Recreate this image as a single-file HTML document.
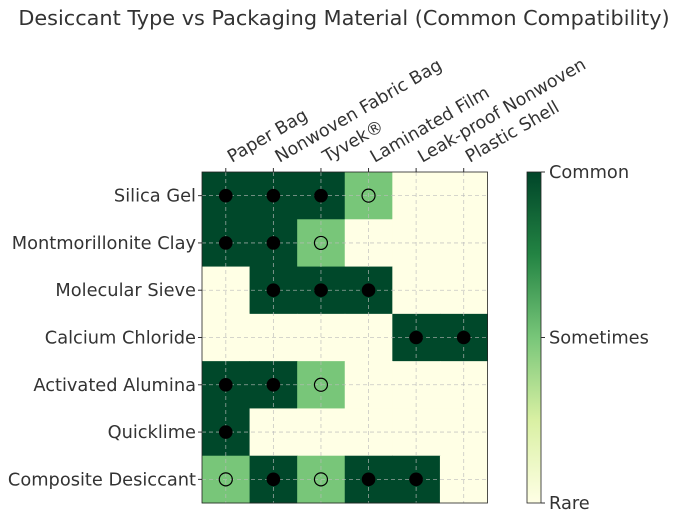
<!DOCTYPE html>
<html><head><meta charset="utf-8"><style>
body{margin:0;background:#fff;font-family:"DejaVu Sans","Liberation Sans",sans-serif;}
svg text{font-family:"DejaVu Sans","Liberation Sans",sans-serif;fill:#333;}
</style></head><body>
<svg id="chart" width="682" height="515">
<defs><linearGradient id="cb" x1="0" y1="1" x2="0" y2="0">
<stop offset="0" stop-color="#ffffe5"/><stop offset="0.25" stop-color="#d9f0a3"/><stop offset="0.5" stop-color="#78c679"/><stop offset="0.75" stop-color="#238443"/><stop offset="1" stop-color="#004529"/></linearGradient></defs>
<text x="344" y="25" text-anchor="middle" font-size="20.8">Desiccant Type vs Packaging Material (Common Compatibility)</text>
<g id="plot"></g>
<rect x="527" y="172" width="14" height="331" fill="url(#cb)" stroke="#222" stroke-width="0.8"/>
<g id="cbticks"></g>
</svg>
<script>
const rows=["Silica Gel","Montmorillonite Clay","Molecular Sieve","Calcium Chloride","Activated Alumina","Quicklime","Composite Desiccant"];
const cols=["Paper Bag","Nonwoven Fabric Bag","Tyvek®","Laminated Film","Leak-proof Nonwoven","Plastic Shell"];
const values=[[2,2,2,1,0,0],[2,2,1,0,0,0],[0,2,2,2,0,0],[0,0,0,0,2,2],[2,2,1,0,0,0],[2,0,0,0,0,0],[1,2,1,2,2,0]];
const cbLabels=["Rare","Sometimes","Common"];
const L=202,T=172,W=285.5,H=331;
const cw=W/cols.length,ch=H/rows.length;
const colors=["#ffffe5","#78c679","#00482a"];
const NS="http://www.w3.org/2000/svg";
const g=document.getElementById('plot');
function mk(t,a,p){const e=document.createElementNS(NS,t);for(const k in a)e.setAttribute(k,a[k]);(p||g).appendChild(e);return e;}
const x=j=>L+j*cw, y=i=>T+i*ch;
values.forEach((r,i)=>r.forEach((v,j)=>{
 const c=mk('rect',{x:x(j),y:y(i),width:cw+0.5,height:ch+0.5,fill:colors[v]});
 
 
}));
cols.forEach((c,j)=>{const cx=x(j)+cw/2;mk('line',{x1:cx,y1:T,x2:cx,y2:T+H,stroke:'#bbb','stroke-width':0.8,'stroke-dasharray':'4,3',opacity:0.8});
 mk('line',{x1:cx,y1:T,x2:cx,y2:T-4,stroke:'#333'});
 const t=mk('text',{x:0,y:0,'font-size':17.5,transform:`translate(${cx+6},${T-9}) rotate(-30)`});t.textContent=c;
 
 });
rows.forEach((r,i)=>{const cy=y(i)+ch/2;mk('line',{x1:L,y1:cy,x2:L+W,y2:cy,stroke:'#bbb','stroke-width':0.8,'stroke-dasharray':'4,3',opacity:0.8});
 mk('line',{x1:L,y1:cy,x2:L-4,y2:cy,stroke:'#333'});
 const t=mk('text',{x:L-6,y:cy+6,'font-size':17.8,'text-anchor':'end'});t.textContent=r;
 
 });
values.forEach((r,i)=>r.forEach((v,j)=>{
 const cx=x(j)+cw/2,cy=y(i)+ch/2;
 if(v===2){const m=mk('circle',{cx,cy,r:6.8,fill:'#000'});}
 else if(v===1){const m=mk('circle',{cx,cy,r:6.5,fill:'none',stroke:'#000','stroke-width':1.2});}
}));
mk('rect',{x:L,y:T,width:W,height:H,fill:'none',stroke:'#222','stroke-width':0.8});
const cg=document.getElementById('cbticks');
cbLabels.forEach((l,k)=>{const cy=503-k*H/2;mk('line',{x1:541,y1:cy,x2:545,y2:cy,stroke:'#333'},cg);
 const t=mk('text',{x:549,y:cy+6,'font-size':17.8},cg);t.textContent=l;
 
 });
</script>
</body></html>
